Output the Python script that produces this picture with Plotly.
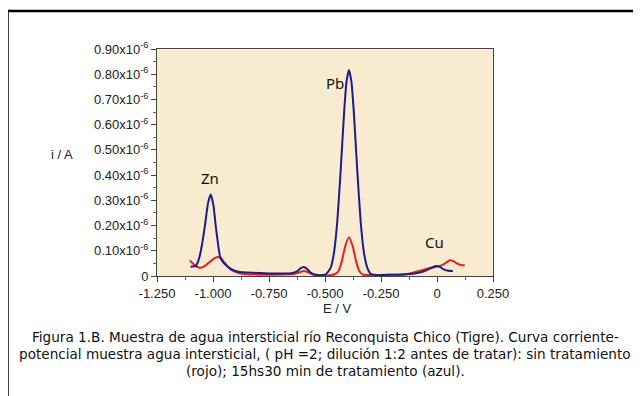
import plotly.graph_objects as go

# Potential (V) and current (x10^-6 A)
e_blue = [-1.100, -1.077, -1.062, -1.050, -1.036, -1.022, -1.010, -0.998, -0.988, -0.978,
          -0.968, -0.955, -0.940, -0.920, -0.900, -0.880, -0.850, -0.800, -0.750, -0.700,
          -0.650, -0.625, -0.610, -0.595, -0.580, -0.565, -0.545, -0.520, -0.495, -0.475,
          -0.460, -0.445, -0.430, -0.415, -0.404, -0.393, -0.382, -0.371, -0.356, -0.341,
          -0.326, -0.311, -0.295, -0.250, -0.200, -0.150, -0.100, -0.060, -0.030, -0.006,
          0.015, 0.030, 0.050, 0.071]
i_blue = [0.037, 0.040, 0.070, 0.120, 0.200, 0.290, 0.323, 0.280, 0.200, 0.130,
          0.075, 0.055, 0.042, 0.028, 0.020, 0.016, 0.014, 0.012, 0.010, 0.010,
          0.011, 0.018, 0.030, 0.036, 0.028, 0.014, 0.006, 0.003, 0.008, 0.032,
          0.092, 0.218, 0.419, 0.645, 0.770, 0.817, 0.770, 0.645, 0.419, 0.218,
          0.092, 0.032, 0.008, 0.004, 0.005, 0.006, 0.010, 0.018, 0.030, 0.040,
          0.035, 0.026, 0.021, 0.020]

e_red = [-1.103, -1.090, -1.075, -1.060, -1.045, -1.025, -1.005, -0.990, -0.976, -0.962,
         -0.948, -0.930, -0.910, -0.890, -0.860, -0.820, -0.760, -0.700, -0.640, -0.615,
         -0.595, -0.575, -0.555, -0.530, -0.480, -0.455, -0.440, -0.425, -0.410, -0.393,
         -0.376, -0.361, -0.346, -0.330, -0.300, -0.250, -0.200, -0.150, -0.120, -0.080,
         -0.040, -0.006, 0.020, 0.040, 0.057, 0.075, 0.095, 0.110, 0.124]
i_red = [0.062, 0.050, 0.038, 0.033, 0.035, 0.048, 0.063, 0.072, 0.075, 0.068,
         0.052, 0.033, 0.020, 0.013, 0.008, 0.006, 0.005, 0.006, 0.008, 0.014,
         0.020, 0.015, 0.006, 0.003, 0.003, 0.008, 0.019, 0.058, 0.117, 0.154,
         0.117, 0.058, 0.019, 0.005, 0.004, 0.004, 0.005, 0.006, 0.010, 0.020,
         0.030, 0.036, 0.042, 0.052, 0.062, 0.058, 0.047, 0.043, 0.043]

x_ticks = [-1.25, -1.0, -0.75, -0.5, -0.25, 0.0, 0.25]
x_labels = ["-1.250", "-1.000", "-0.750", "-0.500", "-0.250", "0", "0.250"]
y_ticks = [0, 0.1, 0.2, 0.3, 0.4, 0.5, 0.6, 0.7, 0.8, 0.9]
y_labels = ["0"] + ["0.%d0x10<sup>-6</sup>" % k for k in range(1, 10)]

peak_names = ["Zn", "Pb", "Cu"]
peak_e = [-1.015, -0.457, -0.009]
peak_i = [0.389, 0.764, 0.134]

caption_lines = [
    "Figura 1.B. Muestra de agua intersticial río Reconquista Chico (Tigre). Curva corriente-",
    "potencial muestra agua intersticial, ( pH =2; dilución 1:2 antes de tratar): sin tratamiento",
    "(rojo); 15hs30 min de tratamiento (azul).",
]

fig = go.Figure()
fig.add_trace(go.Scatter(x=e_red, y=i_red, mode="lines",
                         line=dict(color="#E82020", width=2, shape="spline", smoothing=0.5)))
fig.add_trace(go.Scatter(x=e_blue, y=i_blue, mode="lines",
                         line=dict(color="#1C1C8A", width=2, shape="spline", smoothing=0.5)))

for n, xe, yi in zip(peak_names, peak_e, peak_i):
    fig.add_annotation(x=xe, y=yi, text=n, showarrow=False, xanchor="center", yanchor="middle",
                       font=dict(family="Noto Sans", size=15, color="#111"))

axis_font = dict(family="Liberation Sans, Arial", size=13, color="#222")
fig.update_xaxes(range=[-1.25, 0.25], tickmode="array", tickvals=x_ticks, ticktext=x_labels,
                 showgrid=False, zeroline=False, showline=True, linecolor="#444", linewidth=1,
                 mirror=True, ticks="outside", ticklen=5, tickcolor="#444", tickfont=axis_font,
                 automargin=False,
                 minor=dict(ticks="outside", ticklen=3, tickcolor="#666", dtick=0.125, tick0=-1.25))
fig.update_yaxes(range=[0, 0.9], tickmode="array", tickvals=y_ticks, ticktext=y_labels,
                 showgrid=False, zeroline=False, showline=True, linecolor="#444", linewidth=1,
                 mirror=True, ticks="outside", ticklen=5, tickcolor="#444", tickfont=axis_font,
                 automargin=False,
                 minor=dict(ticks="outside", ticklen=3, tickcolor="#666", dtick=0.05, tick0=0))


def px(x):
    return (x - 157) / 336


def py(y):
    return (276 - y) / 227


# axis titles (positions relative to plot area: left 157, top 49, 336x227 px)
fig.add_annotation(xref="paper", yref="paper", x=px(62), y=py(154), xanchor="center",
                   yanchor="middle", text="i / A", showarrow=False, font=axis_font)
fig.add_annotation(xref="paper", yref="paper", x=px(337), y=py(308), xanchor="center",
                   yanchor="middle", text="E / V", showarrow=False, font=axis_font)
# caption
for line, yc in zip(caption_lines, [337, 354, 371]):
    fig.add_annotation(xref="paper", yref="paper", x=px(325), y=py(yc), xanchor="center",
                       yanchor="middle", text=line, showarrow=False,
                       font=dict(family="DejaVu Sans", size=13.6, color="#111"))
# outer frame
fig.add_shape(type="rect", xref="paper", yref="paper",
              x0=px(7.5), x1=px(660), y0=py(420), y1=py(11),
              line=dict(color="black", width=2.5), fillcolor="rgba(0,0,0,0)")

# page body adds an 8px offset, so margins are reduced by 8 on the top/left
fig.update_layout(width=641, height=396, margin=dict(l=149, r=156, t=41, b=128),
                  paper_bgcolor="white", plot_bgcolor="#F9EBCF", showlegend=False)

fig.write_html("out.html")
